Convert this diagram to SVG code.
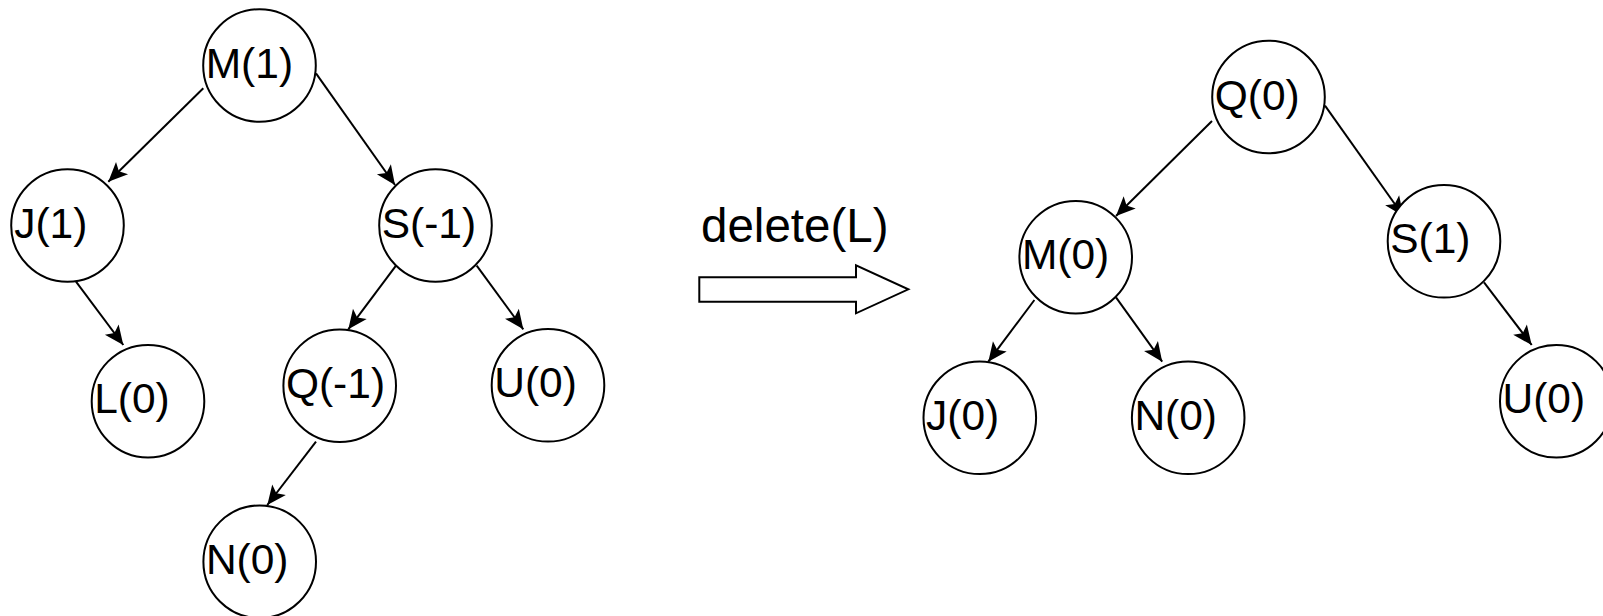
<svg xmlns="http://www.w3.org/2000/svg" width="1603" height="616" viewBox="0 0 1603 616">
<style>
.node circle{fill:#fff;stroke:#000;stroke-width:2}
.node text{font-family:"Liberation Sans",Arial,sans-serif;font-size:42.5px;fill:#000}
.edge{stroke:#000;stroke-width:2;fill:none;marker-end:url(#arr)}
.lbl{font-family:"Liberation Sans",Arial,sans-serif;font-size:47.5px;fill:#000}
</style>
<defs>
<marker id="arr" markerUnits="userSpaceOnUse" markerWidth="22" markerHeight="20" viewBox="-19 -9 20 18" refX="0" refY="0" orient="auto">
<path d="M0,0 L-17.5,-7.8 L-13.5,0 L-17.5,7.8 Z" fill="#000"/>
</marker>
</defs>
<rect width="1603" height="616" fill="#fff"/>
<g id="connectors">
<line class="edge" x1="203.3" y1="88.3" x2="108.3" y2="181.7"/>
<line class="edge" x1="316" y1="73.3" x2="395" y2="185"/>
<line class="edge" x1="76" y1="281.7" x2="123.3" y2="345"/>
<line class="edge" x1="396" y1="265.7" x2="348.3" y2="329.3"/>
<line class="edge" x1="476.7" y1="265.7" x2="523.3" y2="329.3"/>
<line class="edge" x1="316" y1="441.7" x2="267.3" y2="505"/>
<line class="edge" x1="1212" y1="121" x2="1116" y2="216"/>
<line class="edge" x1="1325" y1="105.7" x2="1403.3" y2="216"/>
<line class="edge" x1="1034.4" y1="300" x2="988.3" y2="361.7"/>
<line class="edge" x1="1116" y1="297.3" x2="1162.2" y2="361.7"/>
<line class="edge" x1="1484" y1="282.3" x2="1531.7" y2="345"/>
</g>
<g id="left-M" class="node"><circle cx="259.5" cy="65.5" r="56.3"/><text x="205.7" y="77.5">M(1)</text></g>
<g id="left-J" class="node"><circle cx="67.5" cy="225.5" r="56.3"/><text x="14.2" y="237.5">J(1)</text></g>
<g id="left-S" class="node"><circle cx="435.5" cy="225.5" r="56.3"/><text x="381.7" y="237.5">S(-1)</text></g>
<g id="left-L" class="node"><circle cx="148" cy="401.2" r="56.3"/><text x="94.2" y="413">L(0)</text></g>
<g id="left-Q" class="node"><circle cx="339.7" cy="385.7" r="56.3"/><text x="285.9" y="397.5">Q(-1)</text></g>
<g id="left-U" class="node"><circle cx="548" cy="385.3" r="56.3"/><text x="494.2" y="397.3">U(0)</text></g>
<g id="left-N" class="node"><circle cx="259.7" cy="561.7" r="56.3"/><text x="205.9" y="573.5">N(0)</text></g>
<g id="transform-arrow">
<polygon points="699.3,277.3 856,277.3 856,265.3 908.3,289.3 856,313.3 856,301.7 699.3,301.7" fill="#fff" stroke="#000" stroke-width="2"/>
<text class="lbl" x="701" y="241.7">delete(L)</text>
</g>
<g id="right-Q" class="node"><circle cx="1268.5" cy="97" r="56.3"/><text x="1214.7" y="109.5">Q(0)</text></g>
<g id="right-M" class="node"><circle cx="1075.7" cy="257.2" r="56.3"/><text x="1021.9" y="269.3">M(0)</text></g>
<g id="right-S" class="node"><circle cx="1444" cy="241.3" r="56.3"/><text x="1390.2" y="253.3">S(1)</text></g>
<g id="right-J" class="node"><circle cx="979.8" cy="417.8" r="56.3"/><text x="926" y="429.8">J(0)</text></g>
<g id="right-N" class="node"><circle cx="1188.2" cy="417.8" r="56.3"/><text x="1134.4" y="429.8">N(0)</text></g>
<g id="right-U" class="node"><circle cx="1556.3" cy="401.2" r="56.3"/><text x="1502.5" y="413.2">U(0)</text></g>
</svg>
